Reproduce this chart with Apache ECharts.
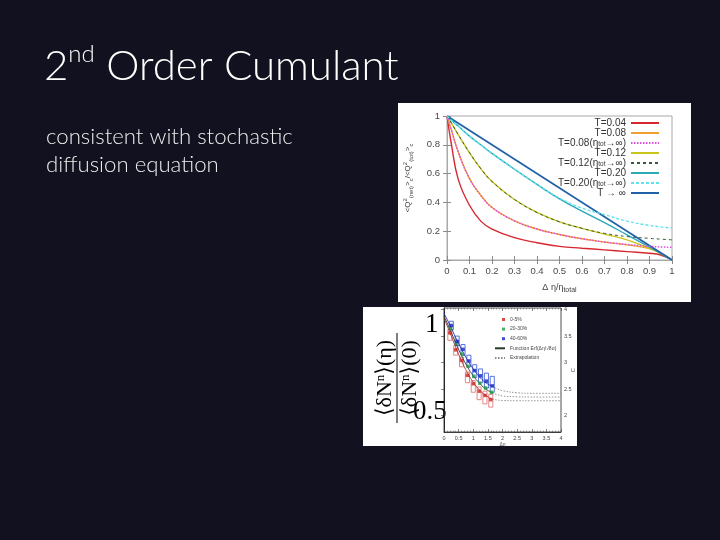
<!DOCTYPE html>
<html>
<head>
<meta charset="utf-8">
<script src="https://cdn.jsdelivr.net/npm/echarts@6/dist/echarts.min.js"></script>
<style>
html, body { margin: 0; padding: 0; background: #11111f; }
#slide { width: 720px; height: 540px; }
</style>
</head>
<body>
<div id="slide"></div>
<script>
// top figure: normalised net-charge cumulant vs Δη/η_total
const etaRatio = [0, 0.02, 0.05, 0.1, 0.15, 0.2, 0.3, 0.4, 0.5, 0.6, 0.7, 0.8, 0.9, 0.95, 1];
const cumT004 = [1, 0.80, 0.56, 0.38, 0.27, 0.215, 0.155, 0.12, 0.095, 0.082, 0.07, 0.058, 0.047, 0.035, 0];
const cumT008 = [1, 0.90, 0.75, 0.565, 0.45, 0.365, 0.272, 0.215, 0.177, 0.148, 0.125, 0.105, 0.08, 0.05, 0];
const cumT008inf = [1, 0.90, 0.75, 0.565, 0.45, 0.365, 0.272, 0.215, 0.177, 0.148, 0.125, 0.108, 0.095, 0.091, 0.088];
const cumT012 = [1, 0.95, 0.87, 0.745, 0.635, 0.545, 0.42, 0.33, 0.265, 0.22, 0.18, 0.14, 0.08, 0.045, 0];
const cumT012inf = [1, 0.95, 0.87, 0.745, 0.635, 0.545, 0.42, 0.33, 0.265, 0.22, 0.185, 0.163, 0.15, 0.145, 0.14];
const cumT020 = [1, 0.97, 0.93, 0.86, 0.80, 0.74, 0.63, 0.525, 0.425, 0.34, 0.26, 0.175, 0.09, 0.045, 0];
const cumT020inf = [1, 0.97, 0.93, 0.86, 0.80, 0.74, 0.63, 0.525, 0.43, 0.36, 0.315, 0.27, 0.24, 0.23, 0.222];
const etaTinf = [0, 1];
const cumTinf = [1, 0];

// bottom figure: measured balance data, right axis C
const etaBins = [0.2, 0.4, 0.6, 0.8, 1.0, 1.2, 1.4, 1.6];
const cRed = [3.56, 3.24, 3.04, 2.76, 2.60, 2.46, 2.38, 2.30];
const cGreen = [3.64, 3.36, 3.16, 2.93, 2.74, 2.61, 2.52, 2.44];
const cBlue = [3.70, 3.40, 3.25, 3.03, 2.85, 2.75, 2.65, 2.56];
const sysRedLo = [3.42, 3.14, 2.92, 2.62, 2.44, 2.30, 2.22, 2.16];
const sysRedHi = [3.62, 3.32, 3.10, 2.82, 2.66, 2.54, 2.46, 2.40];
const sysBlueLo = [3.62, 3.32, 3.14, 2.92, 2.72, 2.62, 2.52, 2.44];
const sysBlueHi = [3.78, 3.50, 3.34, 3.14, 2.96, 2.88, 2.80, 2.74];
const fitEta = [0, 0.2, 0.4, 0.6, 0.8, 1.0, 1.2, 1.4, 1.65];
const fitRed = [3.84, 3.57, 3.29, 3.03, 2.81, 2.63, 2.49, 2.39, 2.31];
const fitGreen = [3.88, 3.63, 3.37, 3.13, 2.92, 2.75, 2.62, 2.51, 2.43];
const fitBlue = [3.93, 3.71, 3.47, 3.25, 3.05, 2.88, 2.74, 2.63, 2.55];
const extEta = [1.65, 1.8, 2.0, 2.5, 3.0, 4.0];
const extRed = [2.31, 2.295, 2.285, 2.28, 2.28, 2.28];
const extGreen = [2.43, 2.40, 2.37, 2.355, 2.35, 2.35];
const extBlue = [2.55, 2.51, 2.47, 2.43, 2.42, 2.42];
const cTicks = [2, 2.5, 3, 3.5, 4];

const pair = (xs, ys) => xs.map((x, i) => [x, ys[i]]);
const tickFont = 'Liberation Sans, DejaVu Sans, sans-serif';
const serif = 'Liberation Serif, DejaVu Serif, serif';

const topLabels = {
  'T=0.04': 'T=0.04',
  'T=0.08': 'T=0.08',
  'T=0.08 inf': 'T=0.08(η{sub|tot}→∞)',
  'T=0.12': 'T=0.12',
  'T=0.12 inf': 'T=0.12(η{sub|tot}→∞)',
  'T=0.20': 'T=0.20',
  'T=0.20 inf': 'T=0.20(η{sub|tot}→∞)',
  'T→∞': 'T → ∞'
};

function curve(name, data, color, type, width, z) {
  return {
    name, type: 'line', xAxisIndex: 0, yAxisIndex: 0, data, z,
    symbol: 'none', smooth: 0.45, silent: true,
    lineStyle: { color, width, type }, itemStyle: { color }
  };
}

function sysBoxes(name, lo, hi, color, dx) {
  return {
    name, type: 'custom', xAxisIndex: 2, yAxisIndex: 3, silent: true, z: 3,
    data: etaBins.map((x, i) => [x + dx, lo[i], hi[i]]),
    renderItem: (params, api) => {
      const a = api.coord([api.value(0) - 0.07, api.value(2)]);
      const b = api.coord([api.value(0) + 0.07, api.value(1)]);
      return { type: 'rect', shape: { x: a[0], y: a[1], width: b[0] - a[0], height: b[1] - a[1] },
        style: { fill: 'none', stroke: color, lineWidth: 0.8 } };
    }
  };
}

function points(name, ys, color, dx) {
  return {
    name, type: 'scatter', xAxisIndex: 2, yAxisIndex: 3, z: 5, silent: true,
    data: etaBins.map((x, i) => [x + dx, ys[i]]),
    symbol: 'rect', symbolSize: 3.5, itemStyle: { color }
  };
}

function fitLine(name, xs, ys, color, type) {
  return {
    name, type: 'line', xAxisIndex: 2, yAxisIndex: 3, data: pair(xs, ys), z: 4,
    symbol: 'none', smooth: 0.4, silent: true,
    lineStyle: { color, width: 0.9, type }, itemStyle: { color }
  };
}

const sq = 'path://M0,0M10,4M7,0.5h3v3h-3z';
const hideMark = { opacity: 0 };

const chart = echarts.init(document.getElementById('slide'));
chart.setOption({
  backgroundColor: '#11111f',
  animation: false,
  graphic: [
    { type: 'rect', z: -10, shape: { x: 398, y: 103, width: 293, height: 199 }, style: { fill: '#ffffff' } },
    { type: 'rect', z: -10, shape: { x: 363, y: 307, width: 214, height: 139 }, style: { fill: '#ffffff' } },
    {
      type: 'text', left: 44, top: 42,
      style: {
        text: '{b|2}{s|nd}{b| Order Cumulant}',
        rich: {
          b: { fontSize: 42, fontFamily: 'Lato, Open Sans, sans-serif', fontWeight: 300, fill: '#ffffff', lineHeight: 48 },
          s: { fontSize: 24, fontFamily: 'Lato, Open Sans, sans-serif', fontWeight: 300, fill: '#ffffff', verticalAlign: 'top', lineHeight: 28 }
        }
      }
    },
    {
      type: 'text', left: 46, top: 123,
      style: {
        text: 'consistent with stochastic\ndiffusion equation',
        fontSize: 22.2, fontFamily: 'Lato, Open Sans, sans-serif', fontWeight: 300,
        lineHeight: 28, fill: '#ececec'
      }
    },
    {
      type: 'group', x: 397, y: 378, rotation: Math.PI / 2,
      children: [
        { type: 'text', style: { x: 0, y: -1, text: '⟨δN{n|n}⟩(η)', align: 'center', verticalAlign: 'bottom',
          fontSize: 22, fontFamily: serif, fill: '#000',
          rich: { n: { fontSize: 13, verticalAlign: 'top', fontFamily: serif, fill: '#000' } } } },
        { type: 'line', shape: { x1: -45, y1: 0, x2: 45, y2: 0 }, style: { stroke: '#000', lineWidth: 1 } },
        { type: 'text', style: { x: 0, y: 2, text: '⟨δN{n|n}⟩(0)', align: 'center', verticalAlign: 'top',
          fontSize: 22, fontFamily: serif, fill: '#000',
          rich: { n: { fontSize: 13, verticalAlign: 'top', fontFamily: serif, fill: '#000' } } } }
      ]
    },
    { type: 'text', style: { x: 425, y: 338, text: '1', fontSize: 27, fontFamily: serif, fill: '#000', verticalAlign: 'bottom' } },
    { type: 'text', style: { x: 413, y: 425, text: '0.5', fontSize: 27, fontFamily: serif, fill: '#000', verticalAlign: 'bottom' } }
  ],
  grid: [
    { left: 447, top: 116, width: 225, height: 144, show: true, borderColor: '#a8a8a8', borderWidth: 1, backgroundColor: 'transparent' },
    { left: 444, top: 308, width: 117, height: 124, show: true, borderColor: '#222', borderWidth: 0.8, backgroundColor: 'transparent' }
  ],
  legend: [
    {
      orient: 'vertical', right: 60, top: 118, align: 'right', padding: 0,
      itemWidth: 28, itemHeight: 8, itemGap: 0,
      itemStyle: hideMark,
      data: Object.keys(topLabels),
      formatter: n => topLabels[n],
      textStyle: {
        color: '#333', fontSize: 10, fontFamily: tickFont, lineHeight: 9.7,
        rich: { sub: { fontSize: 6.5, verticalAlign: 'bottom', fontFamily: tickFont, color: '#333' } }
      }
    },
    {
      orient: 'vertical', left: 494, top: 317, padding: 0,
      itemWidth: 10, itemHeight: 4, itemGap: 4.6,
      data: [
        { name: '0-5%', icon: sq }, { name: '20-30%', icon: sq }, { name: '40-60%', icon: sq },
        { name: 'Function Erf', itemStyle: hideMark }, { name: 'Extrapolation', itemStyle: hideMark }
      ],
      formatter: n => n === 'Function Erf' ? 'Function Erf(Δη/√8σ)' : n,
      textStyle: { color: '#444', fontSize: 5, fontFamily: tickFont }
    }
  ],
  xAxis: [
    {
      gridIndex: 0, type: 'value', min: 0, max: 1, interval: 0.1,
      axisLine: { show: true, lineStyle: { color: '#a8a8a8' } },
      axisTick: { inside: true, length: 4, lineStyle: { color: '#8a8a8a' } },
      splitLine: { show: false },
      axisLabel: { color: '#4a4a4a', fontSize: 9.5, margin: 6, fontFamily: tickFont },
      name: 'Δ η/η{sub|total}', nameLocation: 'middle', nameGap: 21,
      nameTextStyle: { color: '#444', fontSize: 9, fontFamily: tickFont, lineHeight: 13,
        rich: { sub: { fontSize: 7, verticalAlign: 'bottom', color: '#444', fontFamily: tickFont } } }
    },
    {
      gridIndex: 0, type: 'value', min: 0, max: 1, interval: 0.1, position: 'top',
      axisLine: { show: false }, axisLabel: { show: false }, splitLine: { show: false },
      axisTick: { inside: true, length: 4, lineStyle: { color: '#8a8a8a' } }
    },
    {
      gridIndex: 1, type: 'value', min: 0, max: 4, interval: 0.5,
      axisLine: { show: true, lineStyle: { color: '#222', width: 0.8 } },
      axisTick: { inside: true, length: 3, lineStyle: { color: '#333', width: 0.6 } },
      minorTick: { show: true, splitNumber: 5, length: 1.5, lineStyle: { color: '#555', width: 0.5 } },
      splitLine: { show: false },
      axisLabel: { color: '#444', fontSize: 5.5, margin: 3, fontFamily: tickFont },
      name: 'Δη', nameLocation: 'middle', nameGap: 10,
      nameTextStyle: { color: '#555', fontSize: 5, fontFamily: tickFont }
    },
    {
      gridIndex: 1, type: 'value', min: 0, max: 4, interval: 0.5, position: 'top',
      axisLine: { show: false }, axisLabel: { show: false }, splitLine: { show: false },
      axisTick: { inside: true, length: 3, lineStyle: { color: '#333', width: 0.6 } },
      minorTick: { show: true, splitNumber: 5, length: 1.5, lineStyle: { color: '#555', width: 0.5 } }
    }
  ],
  yAxis: [
    {
      gridIndex: 0, type: 'value', min: 0, max: 1, interval: 0.2,
      axisLine: { show: true, lineStyle: { color: '#a8a8a8' } },
      axisTick: { inside: true, length: 4, lineStyle: { color: '#8a8a8a' } },
      splitLine: { show: false },
      axisLabel: { color: '#4a4a4a', fontSize: 9.5, margin: 7, fontFamily: tickFont },
      name: '<Q{sup|2}{sub|(net)}>{sub|c}/<Q{sup|2}{sub|(tot)}>{sub|c}',
      nameLocation: 'middle', nameRotate: 90, nameGap: 33,
      nameTextStyle: { color: '#444', fontSize: 8, fontFamily: tickFont, lineHeight: 12, padding: [0, 0, 0, 20],
        rich: {
          sub: { fontSize: 6, verticalAlign: 'bottom', color: '#444', fontFamily: tickFont },
          sup: { fontSize: 6, verticalAlign: 'top', color: '#444', fontFamily: tickFont }
        } }
    },
    {
      gridIndex: 0, type: 'value', min: 0, max: 1, interval: 0.2, position: 'right',
      axisLine: { show: false }, axisLabel: { show: false }, splitLine: { show: false },
      axisTick: { inside: true, length: 4, lineStyle: { color: '#8a8a8a' } }
    },
    {
      gridIndex: 1, type: 'value', min: 1.69, max: 4.03, position: 'left',
      axisLine: { show: true, lineStyle: { color: '#222', width: 0.8 } },
      axisTick: { show: false }, axisLabel: { show: false }, splitLine: { show: false }
    },
    {
      gridIndex: 1, type: 'value', min: 1.69, max: 4.03, position: 'right',
      axisLine: { show: true, lineStyle: { color: '#222', width: 0.8 } },
      axisTick: { inside: true, length: 3, customValues: cTicks, lineStyle: { color: '#333', width: 0.6 } },
      splitLine: { show: false },
      axisLabel: { customValues: cTicks, color: '#444', fontSize: 5.5, margin: 3, fontFamily: tickFont },
      name: 'C', nameLocation: 'middle', nameRotate: 90, nameGap: 9, nameMoveOverlap: false,
      nameTextStyle: { color: '#555', fontSize: 6, fontFamily: tickFont }
    }
  ],
  series: [
    curve('T=0.04', pair(etaRatio, cumT004), '#d8262f', 'solid', 1.4, 3),
    curve('T=0.08', pair(etaRatio, cumT008), '#f0a030', 'solid', 1.4, 3),
    curve('T=0.08 inf', pair(etaRatio, cumT008inf), '#e050e0', [1.5, 1.5], 1.5, 4),
    curve('T=0.12', pair(etaRatio, cumT012), '#c8c418', 'solid', 1.4, 3),
    curve('T=0.12 inf', pair(etaRatio, cumT012inf), '#3a5a3a', [3, 3], 1, 4),
    curve('T=0.20', pair(etaRatio, cumT020), '#2aa9b9', 'solid', 1.4, 3),
    curve('T=0.20 inf', pair(etaRatio, cumT020inf), '#5ee3ef', [3, 2], 1.4, 4),
    curve('T→∞', pair(etaTinf, cumTinf), '#2060a8', 'solid', 1.6, 3),

    sysBoxes('sys red', sysRedLo, sysRedHi, '#e06a6a', 0),
    sysBoxes('sys blue', sysBlueLo, sysBlueHi, '#3050d0', 0.05),
    fitLine('fit red', fitEta, fitRed, '#b03030', 'solid'),
    fitLine('Function Erf', fitEta, fitGreen, '#2a3a2a', 'solid'),
    fitLine('fit blue', fitEta, fitBlue, '#2030a0', 'solid'),
    fitLine('Extrapolation', extEta, extRed, '#8a8a8a', [1.5, 1.5]),
    fitLine('Extrapolation', extEta, extGreen, '#8a8a8a', [1.5, 1.5]),
    fitLine('Extrapolation', extEta, extBlue, '#8a8a8a', [1.5, 1.5]),
    points('0-5%', cRed, '#d02020', 0),
    points('20-30%', cGreen, '#209a40', 0.025),
    points('40-60%', cBlue, '#1020c0', 0.05)
  ]
});
</script>
</body>
</html>
